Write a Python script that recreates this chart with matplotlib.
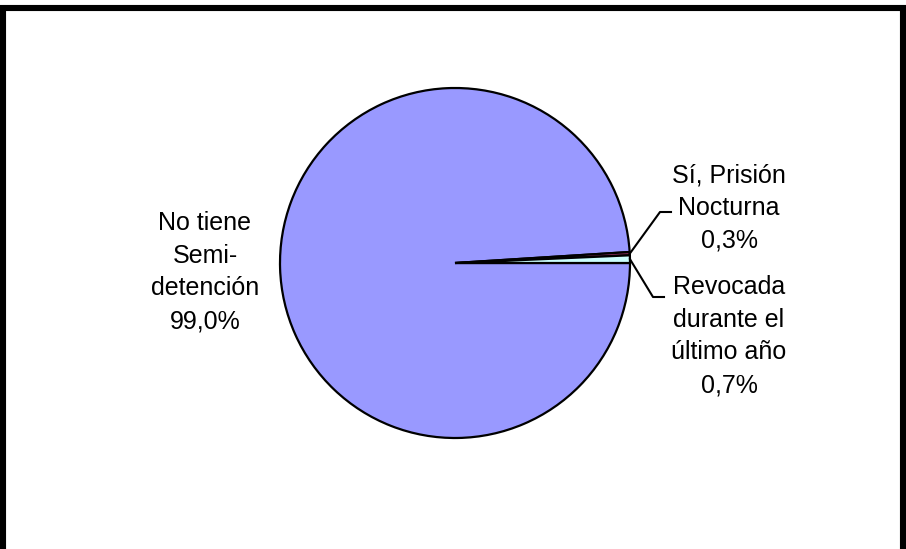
import numpy as np
import matplotlib.pyplot as plt
from matplotlib.patches import Rectangle

plt.rcParams['font.family'] = ['Liberation Sans', 'DejaVu Sans']

categories = ["No tiene\nSemi-\ndetención",
              "Sí, Prisión\nNocturna",
              "Revocada\ndurante el\núltimo año"]
values = [99.0, 0.3, 0.7]
colors = ['#9999FF', '#993366', '#CCFFFF']

W, H = 906, 549
fig = plt.figure(figsize=(W / 100, H / 100), dpi=100)
ax = fig.add_axes([0, 0, 1, 1])

cx, cy, r = 455, H - 263, 175

# pie drawn clockwise from 3 o'clock, like the spreadsheet default
wedges, _ = ax.pie(values, colors=colors, startangle=0, counterclock=False,
                   center=(cx, cy), radius=r, frame=True,
                   wedgeprops=dict(edgecolor='black', linewidth=1.6))
ax.set_xlim(0, W)
ax.set_ylim(0, H)
ax.set_aspect('equal')
ax.axis('off')

def pct(v):
    return f"{v:.1f}%".replace('.', ',')

LS = 1.46

# big slice label, no leader line
ax.text(205, H - 272, f"{categories[0]}\n{pct(values[0])}", ha='center',
        va='center', fontsize=18, linespacing=LS)

# small slices: leader line from the arc to the text
label_pos = [(729, H - 208), (729, H - 336)]
elbows = [(660, H - 212), (653, H - 297)]
for w, v, name, (tx, ty), (ex, ey) in zip(wedges[1:], values[1:], categories[1:],
                                          label_pos, elbows):
    ang = np.deg2rad((w.theta1 + w.theta2) / 2)
    sx, sy = cx + r * np.cos(ang), cy + r * np.sin(ang)
    ax.plot([sx, ex, ex + 11], [sy, ey, ey], color='black', lw=1.5)
    ax.text(tx, ty, f"{name}\n{pct(v)}", ha='center', va='center',
            fontsize=18, linespacing=LS)

# chart frame
ax.add_patch(Rectangle((3, -5), 899.5, H - 7.5 + 5, fill=False,
                       edgecolor='black', linewidth=4.4, clip_on=False))

fig.savefig("out.png", dpi=100)
